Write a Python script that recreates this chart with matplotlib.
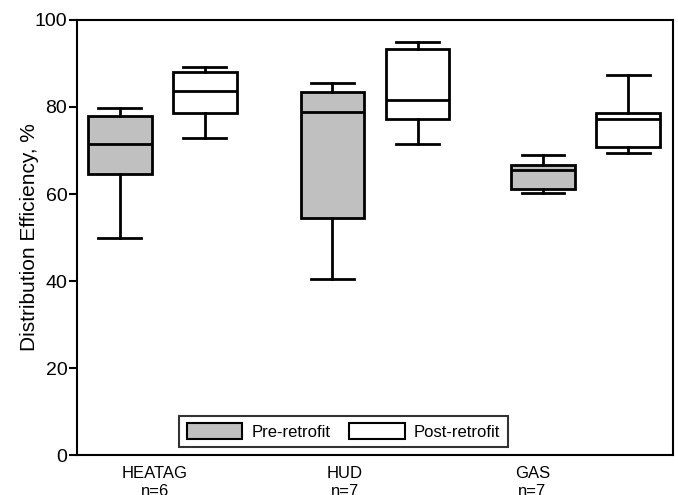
import matplotlib
matplotlib.use("Agg")
import matplotlib.pyplot as plt
from matplotlib.patches import Patch

plt.rcParams['font.family'] = ['Liberation Sans', 'DejaVu Sans']

categories = ["HEATAG\nn=6", "HUD\nn=7", "GAS\nn=7"]
series = ["Pre-retrofit", "Post-retrofit"]

# box statistics per category: [HEATAG, HUD, GAS]
pre_whislo = [49.9, 40.5, 60.2]
pre_q1 = [64.6, 54.5, 61.1]
pre_med = [71.5, 78.9, 65.5]
pre_q3 = [77.9, 83.4, 66.7]
pre_whishi = [79.8, 85.5, 69.0]

post_whislo = [72.9, 71.5, 69.4]
post_q1 = [78.6, 77.2, 70.8]
post_med = [83.7, 81.6, 77.2]
post_q3 = [88.0, 93.3, 78.6]
post_whishi = [89.2, 94.9, 87.4]

yticks = [0, 20, 40, 60, 80, 100]

fig = plt.figure(figsize=(6.78, 4.95), dpi=100)
ax = fig.add_axes([0.1136, 0.0808, 0.879, 0.8788])

group_centers = [0.40, 1.40, 2.39]
offset = 0.20
lw = 2.0

def stats(lo, q1, med, q3, hi):
    return [dict(whislo=a, q1=b, med=c, q3=d, whishi=e, fliers=[])
            for a, b, c, d, e in zip(lo, q1, med, q3, hi)]

common = dict(widths=0.30, patch_artist=True, showfliers=False,
              capwidths=0.20,
              whiskerprops=dict(color='black', linewidth=lw),
              capprops=dict(color='black', linewidth=lw),
              medianprops=dict(color='black', linewidth=lw))

ax.bxp(stats(pre_whislo, pre_q1, pre_med, pre_q3, pre_whishi),
       positions=[c - offset for c in group_centers],
       boxprops=dict(facecolor='#c0c0c0', edgecolor='black', linewidth=lw),
       manage_ticks=False, **common)
ax.bxp(stats(post_whislo, post_q1, post_med, post_q3, post_whishi),
       positions=[c + offset for c in group_centers],
       boxprops=dict(facecolor='white', edgecolor='black', linewidth=lw),
       manage_ticks=False, **common)

ax.set_xlim(0, 2.80)
ax.set_ylim(0, 100)
ax.set_yticks(yticks)
ax.set_xticks([0.366, 1.258, 2.14])
ax.set_xticklabels(categories, fontsize=12, linespacing=1.2)
ax.tick_params(axis='x', length=0, pad=8)
ax.tick_params(axis='y', length=6, width=1.5, labelsize=14, pad=1)
for s in ax.spines.values():
    s.set_linewidth(1.5)
ax.set_ylabel("Distribution Efficiency, %", fontsize=15, labelpad=-3)

handles = [Patch(facecolor='#c0c0c0', edgecolor='black', linewidth=1.5),
           Patch(facecolor='white', edgecolor='black', linewidth=1.5)]
leg = ax.legend(handles, series, loc='center', bbox_to_anchor=(0.447, 0.054),
                ncol=2, fontsize=12, frameon=True, fancybox=False,
                handlelength=3.35, handleheight=1.1, handletextpad=0.55,
                columnspacing=1.1, borderpad=0.45)
leg.get_frame().set_edgecolor('black')
leg.get_frame().set_linewidth(1.5)

fig.savefig("out.png", dpi=100)
